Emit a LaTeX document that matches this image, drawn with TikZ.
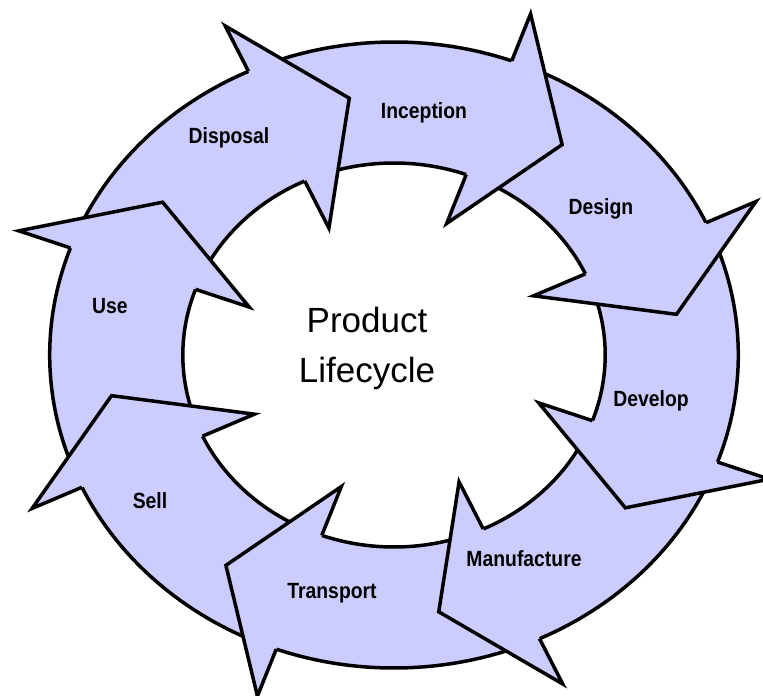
\documentclass[tikz,border=0pt]{standalone}
\usepackage{fontspec}
\setmainfont{Liberation Sans}
\newfontfamily\stagefont[FakeStretch=0.88]{Liberation Sans}
\definecolor{lavender}{RGB}{204,204,255}
\tikzset{
  ring/.style={fill=lavender},
  outline/.style={line width=3.5pt, line join=miter},
  stage/.style={anchor=base, font=\stagefont\bfseries\fontsize{22}{22}\selectfont},
  title/.style={anchor=base, font=\fontsize{35}{40}\selectfont},
}
\begin{document}
\begin{tikzpicture}[x=1pt,y=1pt]
  \useasboundingbox (0,0) rectangle (763,-696);
  \begin{scope}[shift={(394,-355)},xscale=1.1]
    % ring pieces
    \foreach \a in {70,25,...,-245} {
      \fill[ring] ({\a+45}:192) arc ({\a+45}:\a:192) -- (\a:313) arc (\a:{\a+45}:313) -- cycle;
      \draw[outline] ({\a+45}:192) arc ({\a+45}:\a:192);
      \draw[outline] ({\a+45}:313) arc ({\a+45}:\a:313);
    }
    % arrow heads
    \foreach \a in {70,25,...,-245} {
      \fill[ring] (\a:192) -- (\a:140) -- ({\a-16}:260) -- (\a:363) -- (\a:313) -- cycle;
      \draw[outline] (\a:192) -- (\a:140) -- ({\a-16}:260) -- (\a:363) -- (\a:313);
    }
  \end{scope}
  \node[stage] (inception) at (424,-118) {Inception};
  \node[stage] (design) at (601,-214) {Design};
  \node[stage] (develop) at (651,-406) {Develop};
  \node[stage] (manufacture) at (524,-566) {Manufacture};
  \node[stage] (transport) at (332,-598) {Transport};
  \node[stage] (sell) at (150,-508) {Sell};
  \node[stage] (use) at (110,-313) {Use};
  \node[stage] (disposal) at (229,-143) {Disposal};
  \node[title] (product) at (367,-332) {Product};
  \node[title] (lifecycle) at (367,-382) {Lifecycle};
\end{tikzpicture}
\end{document}
